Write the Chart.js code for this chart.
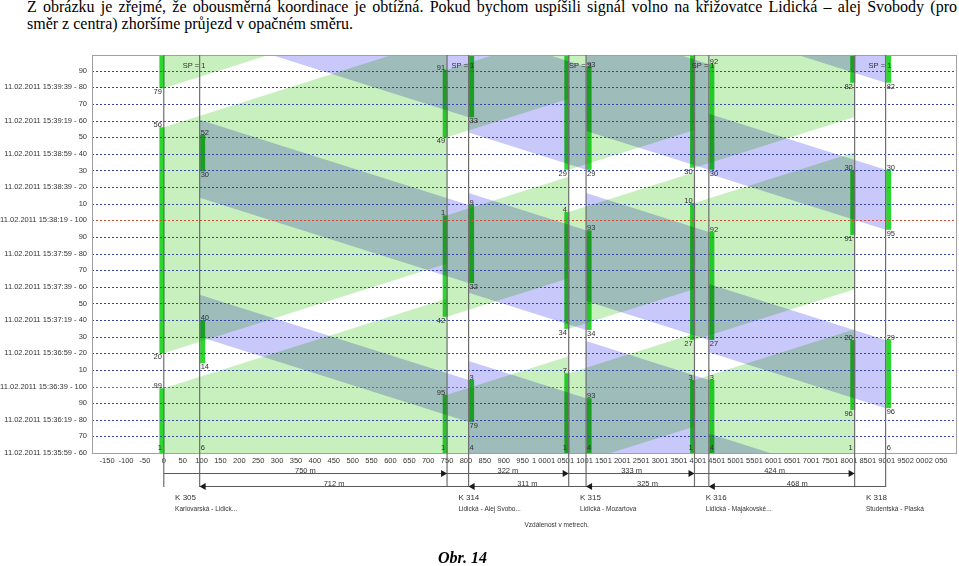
<!DOCTYPE html>
<html>
<head>
<meta charset="utf-8">
<script src="https://cdn.jsdelivr.net/npm/chart.js@4.4.0/dist/chart.umd.min.js"></script>
<style>
body { margin: 0; background: #fff; width: 959px; height: 566px; overflow: hidden; position: relative; }
.para { position: absolute; left: 27px; width: 930px; font-family: "Liberation Serif", "Times New Roman", serif; font-size: 16px; line-height: 17px; color: #000; }
#l1 { top: -2px; text-align: justify; text-align-last: justify; }
#l2 { top: 15px; }
#cap { position: absolute; left: 438px; top: 549px; font-family: "Liberation Serif", serif; font-size: 16px; font-weight: bold; font-style: italic; }
canvas { position: absolute; left: 0; top: 0; }
</style>
</head>
<body>
<div class="para" id="l1">Z obrázku je zřejmé, že obousměrná koordinace je obtížná. Pokud bychom uspíšili signál volno na křižovatce Lidická – alej Svobody (pro</div>
<div class="para" id="l2">směr z centra) zhoršíme průjezd v opačném směru.</div>
<canvas id="c" width="959" height="566"></canvas>
<div id="cap">Obr. 14</div>
<script>
// vzdalenosti mezi stopcarami (m), smer A (z leva) a smer B (z prava)
const distA = [750, 322, 333, 424];
const distB = [712, 311, 325, 468];
const startB = 95;
const speed = 50 / 3.6;

const junctions = ["K 305", "K 314", "K 315", "K 316", "K 318"];
const junctionNames = ["Karlovarská - Lidick...", "Lidická - Alej Svobo...", "Lidická - Mozartova", "Lidická - Majakovské...", "Studentská - Plaská"];
const signalPlans = ["SP = 1", "SP = 1", "SP = 3", "SP = 1", "SP = 1"];
const groupA = ["1", "1", "1", "1", "1"];
const groupB = ["6", "4", "4", "4", "6"];

// zelene [zacatek s, konec s, popis dole, popis nahore]
const greenA = [
  [[-80, 39, "", "99"], [60, 196, "20", "56"], [219.5, 300, "79", ""]],
  [[-80, 35, "", "95"], [82, 143, "42", "1"], [190, 230.6, "49", "91"]],
  [[-8, 48, "", "7"], [74.7, 145, "34", "4"], [170.4, 300, "29", ""]],
  [[-80, 44, "", "3"], [68, 150.5, "27", "10"], [171.6, 300, "30", ""]],
  [[25.9, 68, "96", "20"], [131.2, 170.4, "91", "30"], [222.8, 300, "82", ""]]
];
const greenB = [
  [[54, 80, "14", "40"], [169.5, 191.5, "30", "52"]],
  [[18.7, 44, "79", "3"], [102.3, 149.3, "32", "9"], [202, 300, "33", ""]],
  [[-80, 33, "", "93"], [74, 134, "34", "93"], [170.4, 232.4, "29", "93"]],
  [[-80, 44, "", "3"], [68, 133, "27", "92"], [170.4, 234, "30", "92"]],
  [[-80, -22, "", ""], [27, 68, "96", "29"], [134.3, 170.4, "95", "30"], [222.8, 300, "82", ""]]
];

const yTickLabels = [
  "11.02.2011 15:35:59 - 60", "70", "11.02.2011 15:36:19 - 80", "90",
  "11.02.2011 15:36:39 - 100", "10", "11.02.2011 15:36:59 - 20", "30",
  "11.02.2011 15:37:19 - 40", "50", "11.02.2011 15:37:39 - 60", "70",
  "11.02.2011 15:37:59 - 80", "90", "11.02.2011 15:38:19 - 100", "10",
  "11.02.2011 15:38:39 - 20", "30", "11.02.2011 15:38:59 - 40", "50",
  "11.02.2011 15:39:19 - 60", "70", "11.02.2011 15:39:39 - 80", "90"
];
const yTicks = yTickLabels.map((_, i) => i * 10);
const xTicks = [];
for (let v = -150; v <= 2050; v += 50) xTicks.push(v);

const stopA = [0];
distA.forEach((d, i) => stopA.push(stopA[i] + d));
const stopB = [startB];
distB.forEach((d, i) => stopB.push(stopB[i] + d));

const colA = "#c8f0be";
const colB = "#c8c8fa";
const barShiftA = -5, barShiftB = 8;

const fmtX = (v) => {
  if (Math.abs(v) < 1000) return String(v);
  const r = String(Math.abs(v) % 1000).padStart(3, "0");
  return Math.floor(v / 1000) + " " + r;
};

const datasets = [];
const band = (pts, c) => ({ kind: "band", data: pts, fill: "shape", backgroundColor: c, borderColor: "rgba(0,0,0,0)", borderWidth: 0, pointRadius: 0, tension: 0, clip: 0, order: 1 });
const bar = (x, w, side) => ({ kind: "bar", side: side, win: w, data: [{ x: x, y: w[0] }, { x: x, y: w[1] }], borderColor: "#2ad82e", borderWidth: 5, pointRadius: 0, fill: false, clip: 0, order: 2 });

greenA.forEach((wins, i) => {
  if (i === stopA.length - 1) return;
  const x0 = stopA[i], x1 = stopA[i + 1], dt = (x1 - x0) / speed;
  wins.forEach(w => datasets.push(band([{ x: x0, y: w[0] }, { x: x1, y: w[0] + dt }, { x: x1, y: w[1] + dt }, { x: x0, y: w[1] }], colA)));
});
greenB.forEach((wins, i) => {
  if (i === 0) return;
  const x0 = stopB[i], x1 = stopB[i - 1], dt = (x0 - x1) / speed;
  wins.forEach(w => datasets.push(band([{ x: x0, y: w[0] }, { x: x1, y: w[0] + dt }, { x: x1, y: w[1] + dt }, { x: x0, y: w[1] }], colB)));
});
greenA.forEach((wins, i) => wins.forEach(w => datasets.push(bar(stopA[i] + barShiftA, w, "A"))));
greenB.forEach((wins, i) => wins.forEach(w => datasets.push(bar(stopB[i] + barShiftB, w, "B"))));

const txtFont = (s) => s + "px 'Liberation Sans', Arial, sans-serif";

const diagram = {
  id: "diagram",
  beforeDatasetsDraw(chart) {
    chart.ctx.save();
    chart.ctx.globalCompositeOperation = "multiply";
  },
  afterDatasetsDraw(chart) {
    const ctx = chart.ctx;
    ctx.restore();
    const { left, right, top, bottom } = chart.chartArea;
    const xs = chart.scales.x, ys = chart.scales.y;

    // vodorovne mrizky
    ctx.save();
    ctx.lineWidth = 1;
    ctx.setLineDash([2, 2]);
    yTicks.forEach(v => {
      const y = Math.round(ys.getPixelForValue(v)) + 0.5;
      ctx.strokeStyle = (v + 60) % 100 === 0 ? "#d9482f" : "#3646a8";
      ctx.beginPath(); ctx.moveTo(left, y); ctx.lineTo(right, y); ctx.stroke();
    });
    ctx.restore();

    // ramecek
    ctx.save();
    ctx.strokeStyle = "#a0a0a0";
    ctx.lineWidth = 1;
    ctx.strokeRect(left + 0.5, top + 0.5, right - left - 1, bottom - top);
    ctx.restore();

    // stopcary
    ctx.save();
    ctx.strokeStyle = "#6e6e6e";
    ctx.lineWidth = 1.2;
    stopA.concat(stopB).forEach(s => {
      const x = xs.getPixelForValue(s);
      ctx.beginPath(); ctx.moveTo(x, top); ctx.lineTo(x, bottom + 34); ctx.stroke();
    });
    ctx.restore();

    // popisy zelenych
    ctx.save();
    ctx.fillStyle = "#303030";
    ctx.font = txtFont(7.5);
    ctx.textBaseline = "middle";
    chart.data.datasets.forEach(ds => {
      if (ds.kind !== "bar") return;
      const x = xs.getPixelForValue(ds.data[0].x);
      ctx.textAlign = ds.side === "A" ? "right" : "left";
      const tx = ds.side === "A" ? x : x - 2;
      if (ds.win[2]) ctx.fillText(ds.win[2], tx, ys.getPixelForValue(ds.win[0]) + 4);
      if (ds.win[3]) ctx.fillText(ds.win[3], tx, ys.getPixelForValue(ds.win[1]) - 2);
    });
    stopA.forEach((s, i) => {
      ctx.textAlign = "right";
      ctx.fillText(groupA[i], xs.getPixelForValue(s + barShiftA), bottom - 5);
      ctx.textAlign = "left";
      ctx.fillText(groupB[i], xs.getPixelForValue(stopB[i] + barShiftB) - 2, bottom - 5);
      ctx.textAlign = "center";
      ctx.fillText(signalPlans[i], xs.getPixelForValue(stopB[i] - 15), ys.getPixelForValue(233));
    });
    ctx.restore();
  },
  afterDraw(chart) {
    const ctx = chart.ctx;
    const { left, right, bottom } = chart.chartArea;
    const xs = chart.scales.x;
    const row1 = bottom + 20.5, row2 = bottom + 33.5;
    ctx.save();
    ctx.strokeStyle = "#5a5a5a";
    ctx.fillStyle = "#1a1a1a";
    ctx.lineWidth = 1;
    ctx.font = txtFont(7.5);
    ctx.textAlign = "center";
    ctx.textBaseline = "alphabetic";
    const arrow = (xTip, y, dir) => {
      ctx.beginPath();
      ctx.moveTo(xTip, y);
      ctx.lineTo(xTip - dir * 6, y - 3.5);
      ctx.lineTo(xTip - dir * 6, y + 3.5);
      ctx.closePath();
      ctx.fill();
    };
    distA.forEach((d, i) => {
      const a = xs.getPixelForValue(stopA[i]), b = xs.getPixelForValue(stopA[i + 1]);
      ctx.beginPath(); ctx.moveTo(a, row1); ctx.lineTo(b, row1); ctx.stroke();
      arrow(b, row1, 1);
      ctx.fillStyle = "#333";
      ctx.fillText(d + " m", (a + b) / 2, row1 - 1);
      ctx.fillStyle = "#1a1a1a";
    });
    distB.forEach((d, i) => {
      const a = xs.getPixelForValue(stopB[i]), b = xs.getPixelForValue(stopB[i + 1]);
      ctx.beginPath(); ctx.moveTo(a, row2); ctx.lineTo(b, row2); ctx.stroke();
      arrow(a, row2, -1);
      ctx.fillStyle = "#333";
      ctx.fillText(d + " m", (a + b) / 2, row2 - 1);
      ctx.fillStyle = "#1a1a1a";
    });
    ctx.fillStyle = "#333";
    ctx.textAlign = "left";
    ctx.textBaseline = "middle";
    junctions.forEach((j, i) => {
      const x = xs.getPixelForValue(stopA[i] + 30);
      ctx.font = txtFont(8);
      ctx.fillText(j, x, bottom + 45);
      ctx.font = txtFont(6.5);
      ctx.fillText(junctionNames[i], x, bottom + 56);
    });
    ctx.font = txtFont(6.5);
    ctx.fillText("Vzdálenost v metrech.", (left + right) / 2, bottom + 72);
    ctx.restore();
  }
};

new Chart(document.getElementById("c"), {
  type: "line",
  data: { datasets: datasets },
  options: {
    responsive: false,
    animation: false,
    events: [],
    layout: { padding: { left: 0, top: 55, right: 2, bottom: 98 } },
    plugins: { legend: { display: false }, tooltip: { enabled: false } },
    scales: {
      x: {
        type: "linear",
        min: -190,
        max: 2100,
        grid: { display: false, drawTicks: false },
        border: { display: false },
        afterBuildTicks: (s) => { s.ticks = xTicks.map(v => ({ value: v })); },
        afterFit: (s) => { s.height = 15; },
        ticks: { autoSkip: false, maxRotation: 0, minRotation: 0, padding: 3, color: "#333", font: { family: "Liberation Sans", size: 7.5 }, callback: (v) => fmtX(v) }
      },
      y: {
        type: "linear",
        min: 0,
        max: 239.5,
        grid: { display: false, drawTicks: false },
        border: { display: false },
        afterBuildTicks: (s) => { s.ticks = yTicks.map(v => ({ value: v })); },
        afterFit: (s) => { s.width = 92; },
        ticks: { padding: 5, color: "#333", font: { family: "Liberation Sans", size: 7.5 }, callback: (v, i) => yTickLabels[i] }
      }
    }
  },
  plugins: [diagram]
});
</script>
</body>
</html>
